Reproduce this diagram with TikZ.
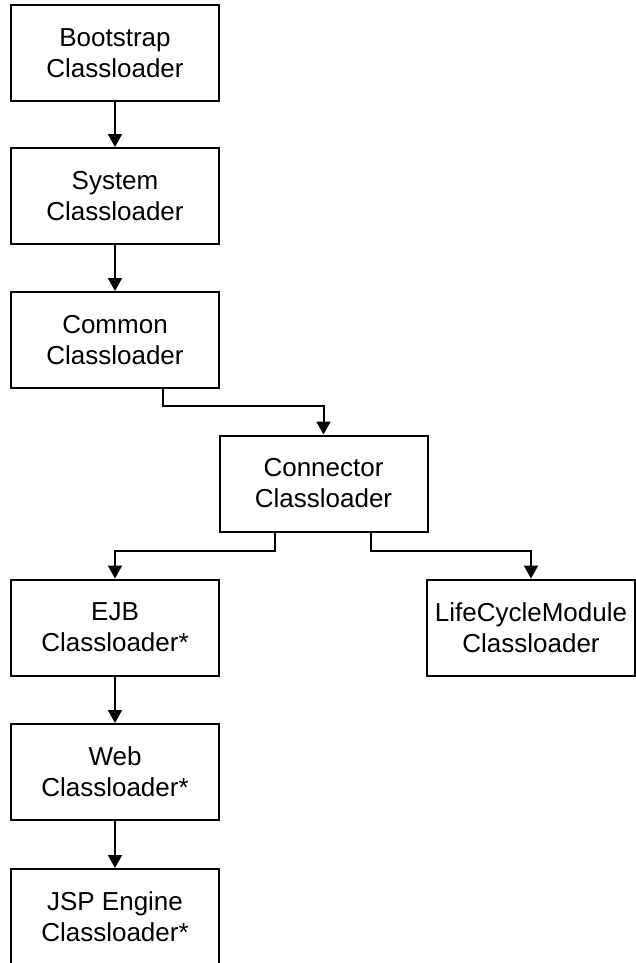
\documentclass[tikz,border=0pt]{standalone}
\usepackage{fontspec}
\setmainfont{Liberation Sans}
\usetikzlibrary{arrows.meta,calc}
\begin{document}
\begin{tikzpicture}[x=1pt,y=1pt,
  box/.style={draw=black,line width=2pt,rectangle,minimum width=208pt,minimum height=96pt,
    inner sep=0pt,align=center,font=\fontsize{26}{31}\selectfont},
  arr/.style={draw=black,line width=2pt,-{Triangle[width=14pt,length=13pt]}}]
\useasboundingbox (0,0) rectangle (635,-963);
\node[box] (boot) at (115,-53) {Bootstrap\\Classloader};
\node[box] (sys) at (115,-196) {System\\Classloader};
\node[box] (common) at (115,-340) {Common\\Classloader};
\node[box] (conn) at (323.5,-483.5) {Connector\\Classloader};
\node[box] (ejb) at (115,-627.5) {EJB\\Classloader*};
\node[box] (life) at (531,-627.5) {LifeCycleModule\\Classloader};
\node[box] (web) at (115,-772) {Web\\Classloader*};
\node[box] (jsp) at (115,-917) {JSP Engine\\Classloader*};
\draw[arr] (boot.south) -- (sys.north);
\draw[arr] (sys.south) -- (common.north);
\draw[arr] ([xshift=48pt]common.south) -- ++(0,-17) -| (conn.north);
\draw[arr] ([xshift=-48.5pt]conn.south) -- ++(0,-18) -| (ejb.north);
\draw[arr] ([xshift=47.5pt]conn.south) -- ++(0,-18) -| (life.north);
\draw[arr] (ejb.south) -- (web.north);
\draw[arr] (web.south) -- (jsp.north);
\end{tikzpicture}
\end{document}
